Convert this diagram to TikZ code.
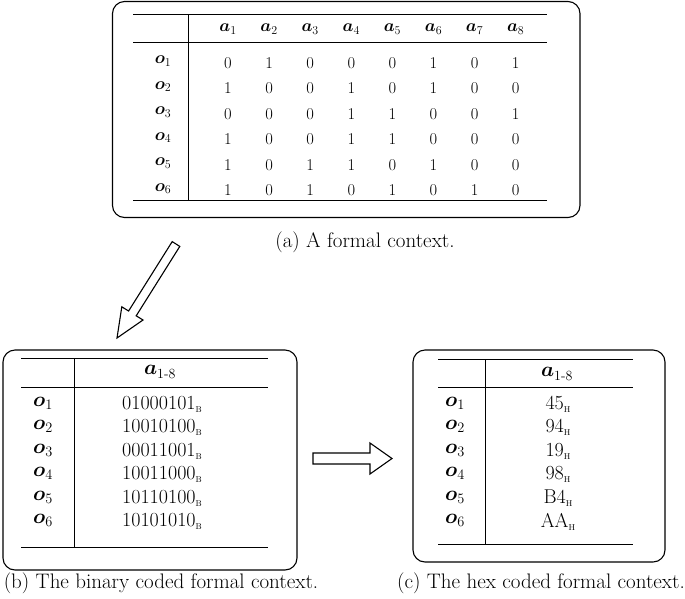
\documentclass[tikz,border=0pt]{standalone}
\usepackage{amsmath,bm}
\newcommand\subsc[1]{\raisebox{-0.35ex}{\fontsize{8.5}{9}\selectfont #1}}
\begin{document}
\begin{tikzpicture}[x=1pt,y=-1pt,
  box/.style={draw,line width=1.1pt,rounded corners=12pt},
  rule/.style={line width=1pt},
  blockarrow/.style={draw,line width=1.1pt,fill=white,line join=miter},
  topcell/.style={inner sep=0pt,anchor=center,font=\fontsize{16.5}{19}\selectfont},
  toplab/.style={inner sep=0pt,anchor=center,font=\fontsize{17.5}{20}\selectfont},
  botcell/.style={inner sep=0pt,anchor=center,font=\fontsize{20}{23}\selectfont},
  botlab/.style={inner sep=0pt,anchor=center,font=\fontsize{20}{23}\selectfont},
  caption/.style={inner sep=0pt,anchor=center,font=\fontsize{21}{24}\selectfont}]
\useasboundingbox (0,0) rectangle (685,598);

% ---------- (a) top table ----------
\draw[box] (112.5,1.5) rectangle (580,217.5);
\draw[rule] (133,14) -- (547,14);
\draw[rule] (133,42) -- (547,42);
\draw[rule] (133,200) -- (547,200);
\draw[rule] (188,14) -- (188,200);
\foreach \c in {1,...,8}{
  \node[toplab] (ha\c) at ({228+41.1*(\c-1)},29) {$\bm{a}_{\c}$};
}
\foreach \r/\row in {1/{0,1,0,0,0,1,0,1},2/{1,0,0,1,0,1,0,0},3/{0,0,0,1,1,0,0,1},
                     4/{1,0,0,1,1,0,0,0},5/{1,0,1,1,0,1,0,0},6/{1,0,1,0,1,0,1,0}}{
  \node[toplab] (to\r) at (163,{61+25.5*(\r-1)}) {$\bm{o}_{\r}$};
  \foreach \v [count=\c] in \row {
    \node[topcell] (t\r-\c) at ({228+41.1*(\c-1)},{63+25.5*(\r-1)}) {\v};
  }
}
\node[caption] (capa) at (365,242) {(a) A formal context.};

% ---------- diagonal block arrow ----------
\draw[blockarrow] (179.8,246.4) -- (172.2,241.6) -- (128.6,311.0) -- (121.8,306.8)
  -- (117,338) -- (143.0,320.0) -- (136.2,315.8) -- cycle;

% ---------- (b) binary table ----------
\draw[box] (3,350) rectangle (297,570);
\draw[rule] (21,358) -- (268,358);
\draw[rule] (21,387) -- (268,387);
\draw[rule] (21,547) -- (268,547);
\draw[rule] (74,358) -- (74,547);
\node[botlab] (hb) at (160,372) {$\bm{a}_{\text{1-8}}$};
\foreach \r/\val in {1/01000101,2/10010100,3/00011001,4/10011000,5/10110100,6/10101010}{
  \node[botlab] (bo\r) at (43,{403+23.5*(\r-1)}) {$\bm{o}_{\r}$};
  \node[botcell] (bv\r) at (162,{404+23.5*(\r-1)}) {\val\subsc{B}};
}
\node[caption] (capb) at (161,583) {(b) The binary coded formal context.};

% ---------- right block arrow ----------
\draw[blockarrow] (313,453) -- (370,453) -- (370,443) -- (392,458.5) -- (370,474)
  -- (370,464) -- (313,464) -- cycle;

% ---------- (c) hex table ----------
\draw[box] (413,350) rectangle (665,562);
\draw[rule] (438,359) -- (633,359);
\draw[rule] (438,387) -- (633,387);
\draw[rule] (438,544) -- (633,544);
\draw[rule] (485,359) -- (485,544);
\node[botlab] (hc) at (557,374) {$\bm{a}_{\text{1-8}}$};
\foreach \r/\val in {1/45,2/94,3/19,4/98,5/B4,6/AA}{
  \node[botlab] (co\r) at (455,{403+23.5*(\r-1)}) {$\bm{o}_{\r}$};
  \node[botcell] (cv\r) at (558,{404+23.5*(\r-1)}) {\val\subsc{H}};
}
\node[caption] (capc) at (541,583) {(c) The hex coded formal context.};
\end{tikzpicture}
\end{document}
